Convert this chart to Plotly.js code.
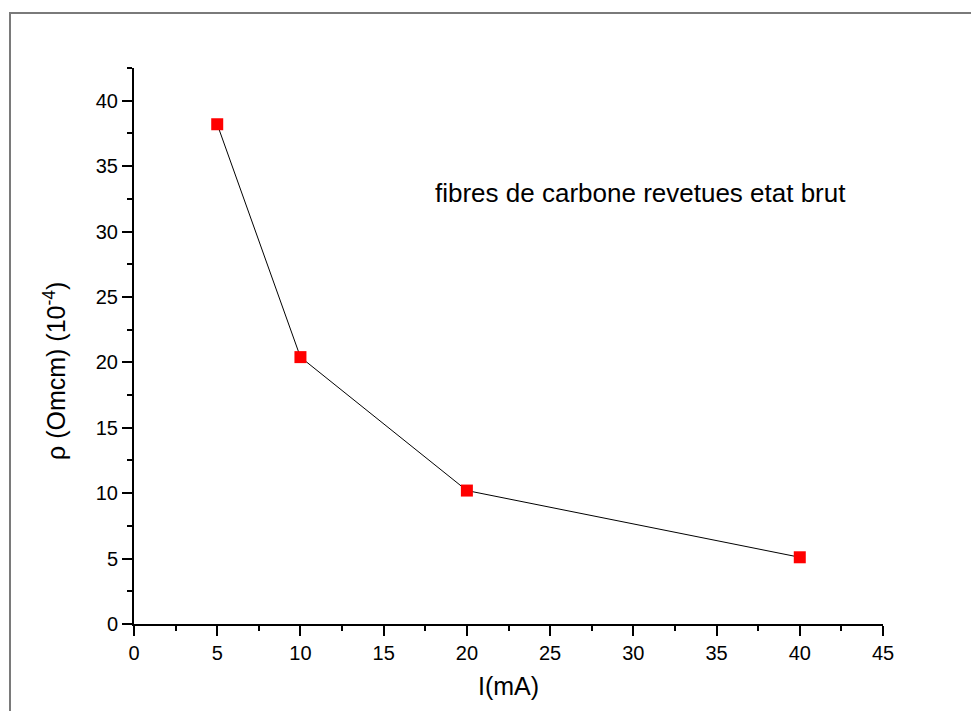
<!DOCTYPE html>
<html>
<head>
<meta charset="utf-8">
<script src="https://cdn.plot.ly/plotly-3.0.1.min.js"></script>
<style>
html,body{margin:0;padding:0;background:#fff;}
#frame{position:absolute;left:9px;top:12px;width:980px;height:697px;border-top:2px solid #7a7a7a;border-left:2px solid #7a7a7a;border-bottom:2px solid #333;pointer-events:none;}
#chart{width:971px;height:711px;}
</style>
</head>
<body>
<div id="chart"></div>
<div id="frame"></div>
<script>
var currentMA = [5, 10, 20, 40];
var resistivity = [38.2, 20.4, 10.2, 5.1];
var xTickVals = [0, 5, 10, 15, 20, 25, 30, 35, 40, 45];
var yTickVals = [0, 5, 10, 15, 20, 25, 30, 35, 40];
var seriesLabel = "fibres de carbone revetues etat brut";
var yTitle = "ρ (Omcm) (10<sup>-4</sup>)";
var xTitle = "I(mA)";

var trace = {
  x: currentMA,
  y: resistivity,
  mode: "lines+markers",
  type: "scatter",
  line: {color: "#000", width: 1},
  marker: {symbol: "square", size: 12, color: "#ff0000"},
  showlegend: false,
  hoverinfo: "x+y"
};

var fontFam = "Liberation Sans, Arial, sans-serif";

var layout = {
  width: 971,
  height: 711,
  paper_bgcolor: "#fff",
  plot_bgcolor: "#fff",
  margin: {l: 134, r: 88, t: 68, b: 87},
  font: {family: fontFam, color: "#000", size: 20},
  xaxis: {
    range: [0, 45],
    tickvals: xTickVals,
    ticks: "outside",
    ticklen: 10,
    tickwidth: 2,
    tickcolor: "#000",
    showline: true,
    linecolor: "#000",
    linewidth: 2,
    showgrid: false,
    zeroline: false,
    tickfont: {size: 20},
    minor: {dtick: 2.5, ticks: "outside", ticklen: 5, tickwidth: 2, tickcolor: "#000"},
    title: {text: xTitle, font: {size: 25}, standoff: 14}
  },
  yaxis: {
    range: [0, 42.5],
    tickvals: yTickVals,
    ticks: "outside",
    ticklen: 10,
    tickwidth: 2,
    tickcolor: "#000",
    showline: true,
    linecolor: "#000",
    linewidth: 2,
    showgrid: false,
    zeroline: false,
    tickfont: {size: 20},
    minor: {dtick: 2.5, ticks: "outside", ticklen: 5, tickwidth: 2, tickcolor: "#000"}
  },
  annotations: [{
    xref: "paper", yref: "paper",
    x: 0.953, y: 0.775,
    xanchor: "right", yanchor: "middle",
    text: seriesLabel,
    showarrow: false,
    font: {size: 26, color: "#000"}
  }, {
    xref: "paper", yref: "paper",
    x: -0.1055, y: 0.455,
    xanchor: "center", yanchor: "middle",
    textangle: -90,
    text: yTitle,
    showarrow: false,
    font: {size: 25, color: "#000"}
  }]
};

Plotly.newPlot("chart", [trace], layout, {displayModeBar: false, staticPlot: true});
</script>
</body>
</html>
